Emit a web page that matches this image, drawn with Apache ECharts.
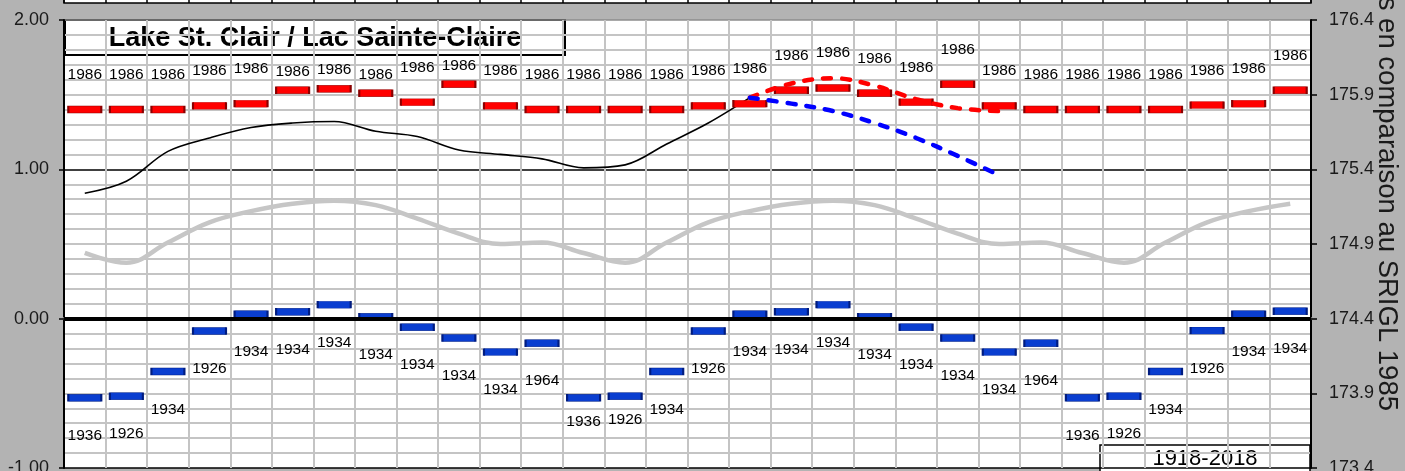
<!DOCTYPE html>
<html>
<head>
<meta charset="utf-8">
<script src="https://cdn.jsdelivr.net/npm/echarts@6/dist/echarts.min.js"></script>
<style>
html,body{margin:0;padding:0;background:#b3b3b3;}
#chart{width:1405px;height:471px;}
</style>
</head>
<body>
<div id="chart"></div>
<script>
const categories = ['Jan','Feb','Mar','Apr','May','Jun','Jul','Aug','Sep','Oct','Nov','Dec',
  'Jan','Feb','Mar','Apr','May','Jun','Jul','Aug','Sep','Oct','Nov','Dec',
  'Jan','Feb','Mar','Apr','May','Jun'];
const recordHigh = [1.40,1.40,1.40,1.425,1.44,1.53,1.54,1.51,1.45,1.57,1.425,1.40,
  1.40,1.40,1.40,1.425,1.44,1.53,1.545,1.51,1.45,1.57,1.425,1.40,
  1.40,1.40,1.40,1.43,1.44,1.53];
const recordHighYear = ['1986','1986','1986','1986','1986','1986','1986','1986','1986','1986','1986','1986',
  '1986','1986','1986','1986','1986','1986','1986','1986','1986','1986','1986','1986',
  '1986','1986','1986','1986','1986','1986'];
const recordLow = [-0.53,-0.52,-0.354,-0.083,0.03,0.047,0.094,0.013,-0.058,-0.13,-0.224,-0.165,
  -0.53,-0.52,-0.354,-0.083,0.03,0.047,0.094,0.013,-0.058,-0.13,-0.224,-0.165,
  -0.53,-0.52,-0.354,-0.08,0.03,0.05];
const recordLowYear = ['1936','1926','1934','1926','1934','1934','1934','1934','1934','1934','1934','1964',
  '1936','1926','1934','1926','1934','1934','1934','1934','1934','1934','1934','1964',
  '1936','1926','1934','1926','1934','1934'];
const average = [0.44,0.375,0.51,0.645,0.72,0.77,0.79,0.76,0.67,0.57,0.50,0.51,
  0.44,0.375,0.51,0.645,0.72,0.77,0.79,0.76,0.67,0.57,0.50,0.51,
  0.44,0.375,0.51,0.645,0.72,0.77];
const observed = [0.84,0.92,1.12,1.21,1.28,1.31,1.32,1.255,1.22,1.13,1.10,1.07,1.01,1.03,1.17,1.31,1.48];
const forecastStart = 16;
const forecastHigh = [1.48,1.575,1.61,1.56,1.47,1.41,1.39];
const forecastLow = [1.48,1.44,1.39,1.31,1.21,1.09,0.96];
const leftTicks = {min:-1, max:2, interval:1};
const rightOffset = 174.4;
const titleText = 'Lake St. Clair / Lac Sainte-Claire';
const periodText = '1918-2018';
const rightTitle = 's en comparaison au SRIGL 1985';

const FONT = '"Liberation Sans", Arial, sans-serif';
const N = categories.length;
function pad(arr, start){ const out = new Array(N).fill(null); arr.forEach((v,i)=>{out[start+i]=v;}); return out; }
const raisedHigh = [5,6,7,9];
const raisedLow = [12,13];

const highData = recordHigh.map((v,i)=>({value:v, label:{formatter:recordHighYear[i], distance: raisedHigh.includes(i)?7:23}}));
const lowData = recordLow.map((v,i)=>({value:v, label:{formatter:recordLowYear[i], distance: raisedLow.includes(i)?12:26}}));

const chart = echarts.init(document.getElementById('chart'));
chart.setOption({
  backgroundColor:'#b3b3b3',
  animation:false,
  grid:[
    {left:64, right:94, top:20, bottom:3, show:true, backgroundColor:'#fff', borderWidth:0, outerBoundsMode:'none', containLabel:false},
    {left:64, right:94, top:-10, height:13, show:true, backgroundColor:'#fff', borderColor:'#000', borderWidth:1.5, outerBoundsMode:'none', containLabel:false}
  ],
  xAxis:[
    {type:'category', gridIndex:0, data:categories, boundaryGap:true,
     axisLine:{show:false}, axisTick:{show:false}, axisLabel:{show:false},
     splitLine:{show:true, interval:0, lineStyle:{color:'#c4c4c4', width:2}}},
    {type:'category', gridIndex:0, position:'top', data:categories,
     axisLine:{show:true, lineStyle:{color:'#8c8c8c', width:3}}, axisTick:{show:false}, axisLabel:{show:false}, splitLine:{show:false}},
    {type:'category', gridIndex:1, data:categories,
     axisLine:{show:false}, axisTick:{show:false}, axisLabel:{show:false},
     splitLine:{show:true, interval:0, lineStyle:{color:'#000', width:1.5}}}
  ],
  yAxis:[
    {type:'value', gridIndex:0, min:leftTicks.min, max:leftTicks.max, interval:leftTicks.interval, position:'left',
     axisLine:{show:true, lineStyle:{color:'#000', width:2}},
     axisTick:{show:true, inside:false, length:5, lineStyle:{color:'#000', width:1.5}},
     axisLabel:{fontFamily:FONT, fontSize:18, color:'#1a1a1a', margin:15, formatter:v=>v.toFixed(2)},
     minorTick:{show:false, splitNumber:10},
     minorSplitLine:{show:true, lineStyle:{color:'#c4c4c4', width:2}},
     splitLine:{show:true, lineStyle:{color:['#000','#000','#000','#8c8c8c'], width:1.5}}},
    {type:'value', gridIndex:0, min:leftTicks.min, max:leftTicks.max, interval:0.5, position:'right',
     axisLine:{show:true, lineStyle:{color:'#000', width:2}},
     axisTick:{show:true, inside:false, length:6, lineStyle:{color:'#000', width:1.5}},
     axisLabel:{fontFamily:FONT, fontSize:18, color:'#1a1a1a', margin:18, formatter:v=>(v+rightOffset).toFixed(1)},
     splitLine:{show:false}},
    {type:'value', gridIndex:1, show:false}
  ],
  series:[
    {type:'line', name:'average', data:average, smooth:0.4, showSymbol:false, z:2,
     lineStyle:{color:'#c6c6c6', width:4.5},
     markLine:{silent:true, symbol:'none', label:{show:false}, lineStyle:{color:'#000', width:4, type:'solid'}, data:[{yAxis:0}]}},
    {type:'line', name:'observed', data:observed, smooth:0.35, showSymbol:false, z:3,
     lineStyle:{color:'#000', width:1.6}},
    {type:'scatter', name:'record high', data:highData, symbol:'rect', symbolSize:[33,7], z:4,
     itemStyle:{color:'#ff0000', borderColor:'#8a0000', borderWidth:1, opacity:1},
     label:{show:true, position:'top', fontFamily:FONT, fontSize:15.5, color:'#000'}},
    {type:'scatter', name:'record low', data:lowData, symbol:'rect', symbolSize:[33,7], z:4,
     itemStyle:{color:'#0a3ed0', borderColor:'#001c80', borderWidth:1, opacity:1},
     label:{show:true, position:'bottom', fontFamily:FONT, fontSize:15.5, color:'#000'}},
    {type:'line', name:'forecast high', data:pad(forecastHigh, forecastStart), smooth:0.4, showSymbol:false, z:5,
     lineStyle:{color:'#ff0000', width:4.5, type:[8,11], cap:'round'}},
    {type:'line', name:'forecast low', data:pad(forecastLow, forecastStart), smooth:0.4, showSymbol:false, z:5,
     lineStyle:{color:'#0000ff', width:4.5, type:[8,11], cap:'round'}}
  ],
  graphic:[
    {type:'group', x:65, y:20, z:100, children:[
      {type:'rect', shape:{x:0, y:0, width:500, height:35}, style:{fill:'#fff', stroke:'#000', lineWidth:2}},
      {type:'text', x:250, y:19, style:{text:titleText, font:'bold 27px '+FONT, fill:'#000', textAlign:'center', textVerticalAlign:'middle'}}
    ]},
    {type:'group', x:1100, y:445, z:100, children:[
      {type:'rect', shape:{x:0, y:0, width:210, height:32}, style:{fill:'#fff', stroke:'#000', lineWidth:1.5}},
      {type:'text', x:105, y:14, style:{text:periodText, font:'22px '+FONT, fill:'#000', textAlign:'center', textVerticalAlign:'middle'}}
    ]},
    {type:'text', x:1387, y:411, rotation:-Math.PI/2, z:100,
     style:{text:rightTitle, font:'27.5px '+FONT, fill:'#1a1a1a', textAlign:'right', textVerticalAlign:'middle'}}
  ]
});
</script>
</body>
</html>
